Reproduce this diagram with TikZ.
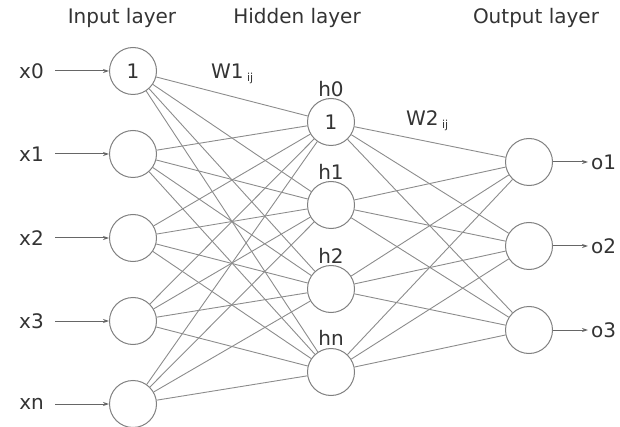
\documentclass[tikz,border=0pt]{standalone}
\usepackage{fontspec}
\setmainfont{DejaVu Sans}
\usetikzlibrary{arrows.meta}
\begin{document}
\begin{tikzpicture}[x=1pt,y=-1pt,
  neuron/.style={circle,draw=black!50,line width=1pt,minimum size=47pt,inner sep=0pt,fill=white,text=black!80,font=\fontsize{20}{24}\selectfont},
  lbl/.style={text=black!80,font=\fontsize{20}{24}\selectfont,inner sep=0pt},
  conn/.style={draw=black!45,line width=0.9pt},
  io/.style={draw=black!60,line width=1pt,-{Stealth[length=6pt,width=4pt]}}]
\useasboundingbox (0,0) rectangle (620,427);
% headers
\node[lbl] (hin) at (122,18) {Input layer};
\node[lbl] (hhid) at (297,18) {Hidden layer};
\node[lbl] (hout) at (536,18) {Output layer};
% input neurons
\node[neuron] (i0) at (133,71) {1};
\node[neuron] (i1) at (133,154) {};
\node[neuron] (i2) at (133,238) {};
\node[neuron] (i3) at (133,321) {};
\node[neuron] (i4) at (133,404) {};
% hidden neurons
\node[neuron] (h0) at (331,122) {1};
\node[neuron] (h1) at (331,205) {};
\node[neuron] (h2) at (331,289) {};
\node[neuron] (h3) at (331,372) {};
% output neurons
\node[neuron] (o1) at (529,162) {};
\node[neuron] (o2) at (529,246) {};
\node[neuron] (o3) at (529,330) {};
% connections
\begin{scope}[on background layer/.style={}]
\foreach \i in {0,...,4}{\foreach \h in {0,...,3}{\draw[conn] (i\i) -- (h\h);}}
\foreach \h in {0,...,3}{\foreach \o in {1,2,3}{\draw[conn] (h\h) -- (o\o);}}
\end{scope}
% hidden labels
\node[lbl] (lh0) at (331,89) {h0};
\node[lbl] (lh1) at (331,172) {h1};
\node[lbl] (lh2) at (331,256) {h2};
\node[lbl] (lh3) at (331,338) {hn};
% input labels and arrows
\node[lbl,anchor=east,inner xsep=0pt] (x0) at (44,71) {x0};
\node[lbl,anchor=east] (x1) at (44,154) {x1};
\node[lbl,anchor=east] (x2) at (44,238) {x2};
\node[lbl,anchor=east] (x3) at (44,321) {x3};
\node[lbl,anchor=east] (x4) at (44,404) {xn};
\foreach \k in {0,...,4}{\draw[io] ([xshift=11pt]x\k.east) -- (i\k);}
% output labels
\node[lbl,anchor=west] (l1) at (591,162) {o1};
\node[lbl,anchor=west] (l2) at (591,246) {o2};
\node[lbl,anchor=west] (l3) at (591,330) {o3};
\draw[io] (o1) -- ([xshift=-3pt]l1.west);
\draw[io] (o2) -- ([xshift=-3pt]l2.west);
\draw[io] (o3) -- ([xshift=-3pt]l3.west);
% weight labels
\node[lbl,anchor=west] (w1) at (211,74) {W1\,{\fontsize{11}{12}\selectfont\raisebox{-3pt}{ij}}};
\node[lbl,anchor=west] (w2) at (406,121) {W2\,{\fontsize{11}{12}\selectfont\raisebox{-3pt}{ij}}};
\end{tikzpicture}
\end{document}
